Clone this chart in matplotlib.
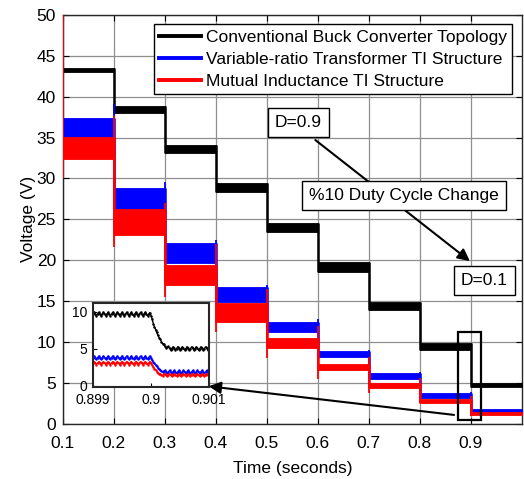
import matplotlib
matplotlib.use("Agg")
import matplotlib.pyplot as plt
from matplotlib.lines import Line2D
from matplotlib.patches import Rectangle

plt.rcParams['font.family'] = ['Liberation Sans', 'DejaVu Sans']

# ---- main data: each duty-cycle segment, ripple band low/high (V) ----
seg_start = [0.1, 0.2, 0.3, 0.4, 0.5, 0.6, 0.7, 0.8, 0.9]
seg_end = [0.2, 0.3, 0.4, 0.5, 0.6, 0.7, 0.8, 0.9, 1.0]
black_lo = [43.0, 38.0, 33.1, 28.3, 23.5, 18.6, 13.9, 9.0, 4.5]
black_hi = [43.5, 38.9, 34.1, 29.4, 24.6, 19.8, 14.9, 9.9, 5.0]
blue_lo = [35.1, 26.3, 19.7, 14.9, 11.2, 8.2, 5.5, 3.2, 1.3]
blue_hi = [37.4, 28.8, 22.1, 16.7, 12.5, 8.9, 6.2, 3.8, 1.8]
red_lo = [32.4, 23.1, 17.0, 12.5, 9.3, 6.6, 4.4, 2.5, 1.1]
red_hi = [35.1, 26.3, 19.4, 14.8, 10.5, 7.3, 5.0, 3.0, 1.5]

# transient spikes at each step change
trans_t = [0.1, 0.2, 0.3, 0.4, 0.5, 0.6, 0.7, 0.8, 0.9]
blue_sp_lo = [33.0, 26.3, 19.7, 14.9, 11.2, 8.2, 5.5, 3.2, 1.3]
blue_sp_hi = [37.4, 39.1, 29.6, 22.5, 17.0, 12.8, 9.0, 6.3, 3.9]
red_sp_lo = [30.0, 21.6, 15.5, 11.2, 8.1, 5.5, 3.8, 2.6, 1.0]
red_sp_hi = [50.0, 37.6, 27.0, 22.0, 16.5, 12.0, 8.2, 5.6, 3.4]

xticks = [0.1, 0.2, 0.3, 0.4, 0.5, 0.6, 0.7, 0.8, 0.9]
xticklabels = ['0.1', '0.2', '0.3', '0.4', '0.5', '0.6', '0.7', '0.8', '0.9']
yticks = [0, 5, 10, 15, 20, 25, 30, 35, 40, 45, 50]

legend_labels = ['Conventional Buck Converter Topology',
                 'Variable-ratio Transformer TI Structure',
                 'Mutual Inductance TI Structure']

# ---- inset data (zoom around t = 0.9 s), samples every 20 us ----
inset_t0 = 0.899
inset_dt = 0.00002
inset_black = [9.7, 9.95, 9.7, 9.45, 9.7, 9.95, 9.7, 9.45, 9.7, 9.95,
               9.7, 9.45, 9.7, 9.95, 9.7, 9.45, 9.7, 9.95, 9.7, 9.45,
               9.7, 9.95, 9.7, 9.45, 9.7, 9.95, 9.7, 9.45, 9.7, 9.95,
               9.7, 9.45, 9.7, 9.95, 9.7, 9.45, 9.7, 9.95, 9.7, 9.45,
               9.7, 9.95, 9.7, 9.45, 9.7, 9.95, 9.7, 9.45, 9.7, 9.9,
               9.5, 9.0, 8.4, 7.9, 7.6, 7.2, 6.8, 6.5, 6.3, 5.9,
               5.7, 5.6, 5.3, 5.1, 5.2, 5.3, 5.05, 4.8, 5.0, 5.25,
               5.05, 4.8, 5.0, 5.25, 5.05, 4.8, 5.0, 5.25, 5.05, 4.8,
               5.0, 5.25, 5.05, 4.8, 5.0, 5.25, 5.05, 4.8, 5.0, 5.25,
               5.05, 4.8, 5.0, 5.25, 5.05, 4.8, 5.0, 5.25, 5.05, 4.8, 5.0]
inset_blue = [3.8, 4.0, 3.8, 3.6, 3.8, 4.0, 3.8, 3.6, 3.8, 4.0,
              3.8, 3.6, 3.8, 4.0, 3.8, 3.6, 3.8, 4.0, 3.8, 3.6,
              3.8, 4.0, 3.8, 3.6, 3.8, 4.0, 3.8, 3.6, 3.8, 4.0,
              3.8, 3.6, 3.8, 4.0, 3.8, 3.6, 3.8, 4.0, 3.8, 3.6,
              3.8, 4.0, 3.8, 3.6, 3.8, 4.0, 3.8, 3.6, 3.8, 4.0,
              3.75, 3.45, 3.2, 3.0, 2.8, 2.6, 2.4, 2.2, 2.15, 2.0,
              1.85, 1.95, 2.05, 1.85, 1.65, 1.85, 2.05, 1.85, 1.65, 1.85,
              2.05, 1.85, 1.65, 1.85, 2.05, 1.85, 1.65, 1.85, 2.05, 1.85,
              1.65, 1.85, 2.05, 1.85, 1.65, 1.85, 2.05, 1.85, 1.65, 1.85,
              2.05, 1.85, 1.65, 1.85, 2.05, 1.85, 1.65, 1.85, 2.05, 1.85, 1.65]
inset_red = [3.05, 3.25, 3.05, 2.85, 3.05, 3.25, 3.05, 2.85, 3.05, 3.25,
             3.05, 2.85, 3.05, 3.25, 3.05, 2.85, 3.05, 3.25, 3.05, 2.85,
             3.05, 3.25, 3.05, 2.85, 3.05, 3.25, 3.05, 2.85, 3.05, 3.25,
             3.05, 2.85, 3.05, 3.25, 3.05, 2.85, 3.05, 3.25, 3.05, 2.85,
             3.05, 3.25, 3.05, 2.85, 3.05, 3.25, 3.05, 2.85, 3.05, 3.25,
             3.0, 2.75, 2.5, 2.3, 2.1, 1.9, 1.75, 1.6, 1.55, 1.45,
             1.35, 1.5, 1.6, 1.45, 1.3, 1.45, 1.6, 1.45, 1.3, 1.45,
             1.6, 1.45, 1.3, 1.45, 1.6, 1.45, 1.3, 1.45, 1.6, 1.45,
             1.3, 1.45, 1.6, 1.45, 1.3, 1.45, 1.6, 1.45, 1.3, 1.45,
             1.6, 1.45, 1.3, 1.45, 1.6, 1.45, 1.3, 1.45, 1.6, 1.45, 1.3]
inset_t = [inset_t0 + i * inset_dt for i in range(len(inset_black))]

BLACK, BLUE, RED = '#000000', '#0000ff', '#ff0000'
FS = 12.5

fig = plt.figure(figsize=(5.24, 4.79), dpi=100)
ax = fig.add_axes([0.120, 0.115, 0.876, 0.854])

def draw_series(lo, hi, color, z, sp_lo=None, sp_hi=None):
    for s, e, l, h in zip(seg_start, seg_end, lo, hi):
        ax.fill_between([s, e], [l, l], [h, h], color=color, lw=0.6,
                        edgecolor=color, zorder=z)
    # vertical transitions between consecutive levels
    for k in range(1, len(seg_start)):
        t = seg_start[k]
        ax.vlines(t, min(lo[k], lo[k - 1]), max(hi[k], hi[k - 1]),
                  color=color, lw=1.8, zorder=z)
    if sp_lo is not None:
        ax.vlines(trans_t, sp_lo, sp_hi, color=color, lw=1.3, zorder=z)

draw_series(black_lo, black_hi, BLACK, 3)
draw_series(blue_lo, blue_hi, BLUE, 3.1, blue_sp_lo, blue_sp_hi)
draw_series(red_lo, red_hi, RED, 3.2, red_sp_lo, red_sp_hi)

ax.set_xlim(0.1, 1.0)
ax.set_ylim(0, 50)
ax.set_xticks(xticks)
ax.set_xticklabels(xticklabels)
ax.set_yticks(yticks)
ax.tick_params(direction='in', labelsize=FS, length=4, width=0.8,
               top=True, right=True, pad=5)
ax.tick_params(axis='x', pad=9)
ax.grid(True, color='#8f8f8f', lw=0.9)
ax.set_axisbelow(True)
for sp in ax.spines.values():
    sp.set_linewidth(1.0)
    sp.set_color('#262626')
ax.set_xlabel('Time (seconds)', fontsize=FS, labelpad=7)
ax.set_ylabel('Voltage (V)', fontsize=FS, labelpad=0)

handles = [Line2D([], [], color=c, lw=2.8) for c in (BLACK, BLUE, RED)]
leg = ax.legend(handles, legend_labels, loc='upper right', fontsize=FS,
                frameon=True, fancybox=False, edgecolor='black',
                framealpha=1, handlelength=2.4, handletextpad=0.3,
                labelspacing=0.40, borderpad=0.3, borderaxespad=0.55)
leg.get_frame().set_linewidth(1.0)
leg.set_zorder(10)

box = dict(boxstyle='square,pad=0.4', fc='white', ec='black', lw=1.0)
# long arrow D=0.9 -> D=0.1
ax.annotate('', xy=(0.898, 19.9), xytext=(0.595, 34.7),
            arrowprops=dict(arrowstyle='-|>', color='black', lw=1.5,
                            mutation_scale=18, shrinkA=0, shrinkB=0),
            zorder=8)
ax.text(0.562, 36.8, 'D=0.9', fontsize=FS, ha='center', va='center',
        bbox=box, zorder=9)
ax.text(0.769, 27.9, '%10 Duty Cycle Change', fontsize=FS, ha='center',
        va='center', bbox=box, zorder=9)
ax.text(0.926, 17.5, 'D=0.1', fontsize=FS, ha='center', va='center',
        bbox=box, zorder=9)

# highlight rectangle and arrow to inset
ax.add_patch(Rectangle((0.875, 0.5), 0.0455, 10.7, fill=False,
                       ec='black', lw=1.6, zorder=8))
ax.annotate('', xy=(0.386, 4.6), xytext=(0.867, 1.1),
            arrowprops=dict(arrowstyle='-|>', color='black', lw=1.5,
                            mutation_scale=18, shrinkA=0, shrinkB=0),
            zorder=8)

# ---- inset ----
axi = fig.add_axes([93 / 524, (479 - 387) / 479, 116 / 524, 84 / 479])
axi.set_zorder(12)
axi.plot(inset_t, inset_black, color=BLACK, lw=1.0, marker='.', ms=1.5)
axi.plot(inset_t, inset_blue, color=BLUE, lw=1.0, marker='.', ms=1.5)
axi.plot(inset_t, inset_red, color=RED, lw=1.0, marker='.', ms=1.5)
axi.set_xlim(0.899, 0.901)
axi.set_ylim(-0.2, 11.2)
axi.set_xticks([0.899, 0.9, 0.901])
axi.set_xticklabels(['0.899', '0.9', '0.901'])
axi.set_yticks([0, 5, 10])
axi.set_yticklabels(['0', '5', '10'])
axi.tick_params(direction='in', labelsize=10, length=3, pad=4)
for sp in axi.spines.values():
    sp.set_linewidth(1.5)
    sp.set_color('#262626')

fig.savefig('out.png', dpi=100)
